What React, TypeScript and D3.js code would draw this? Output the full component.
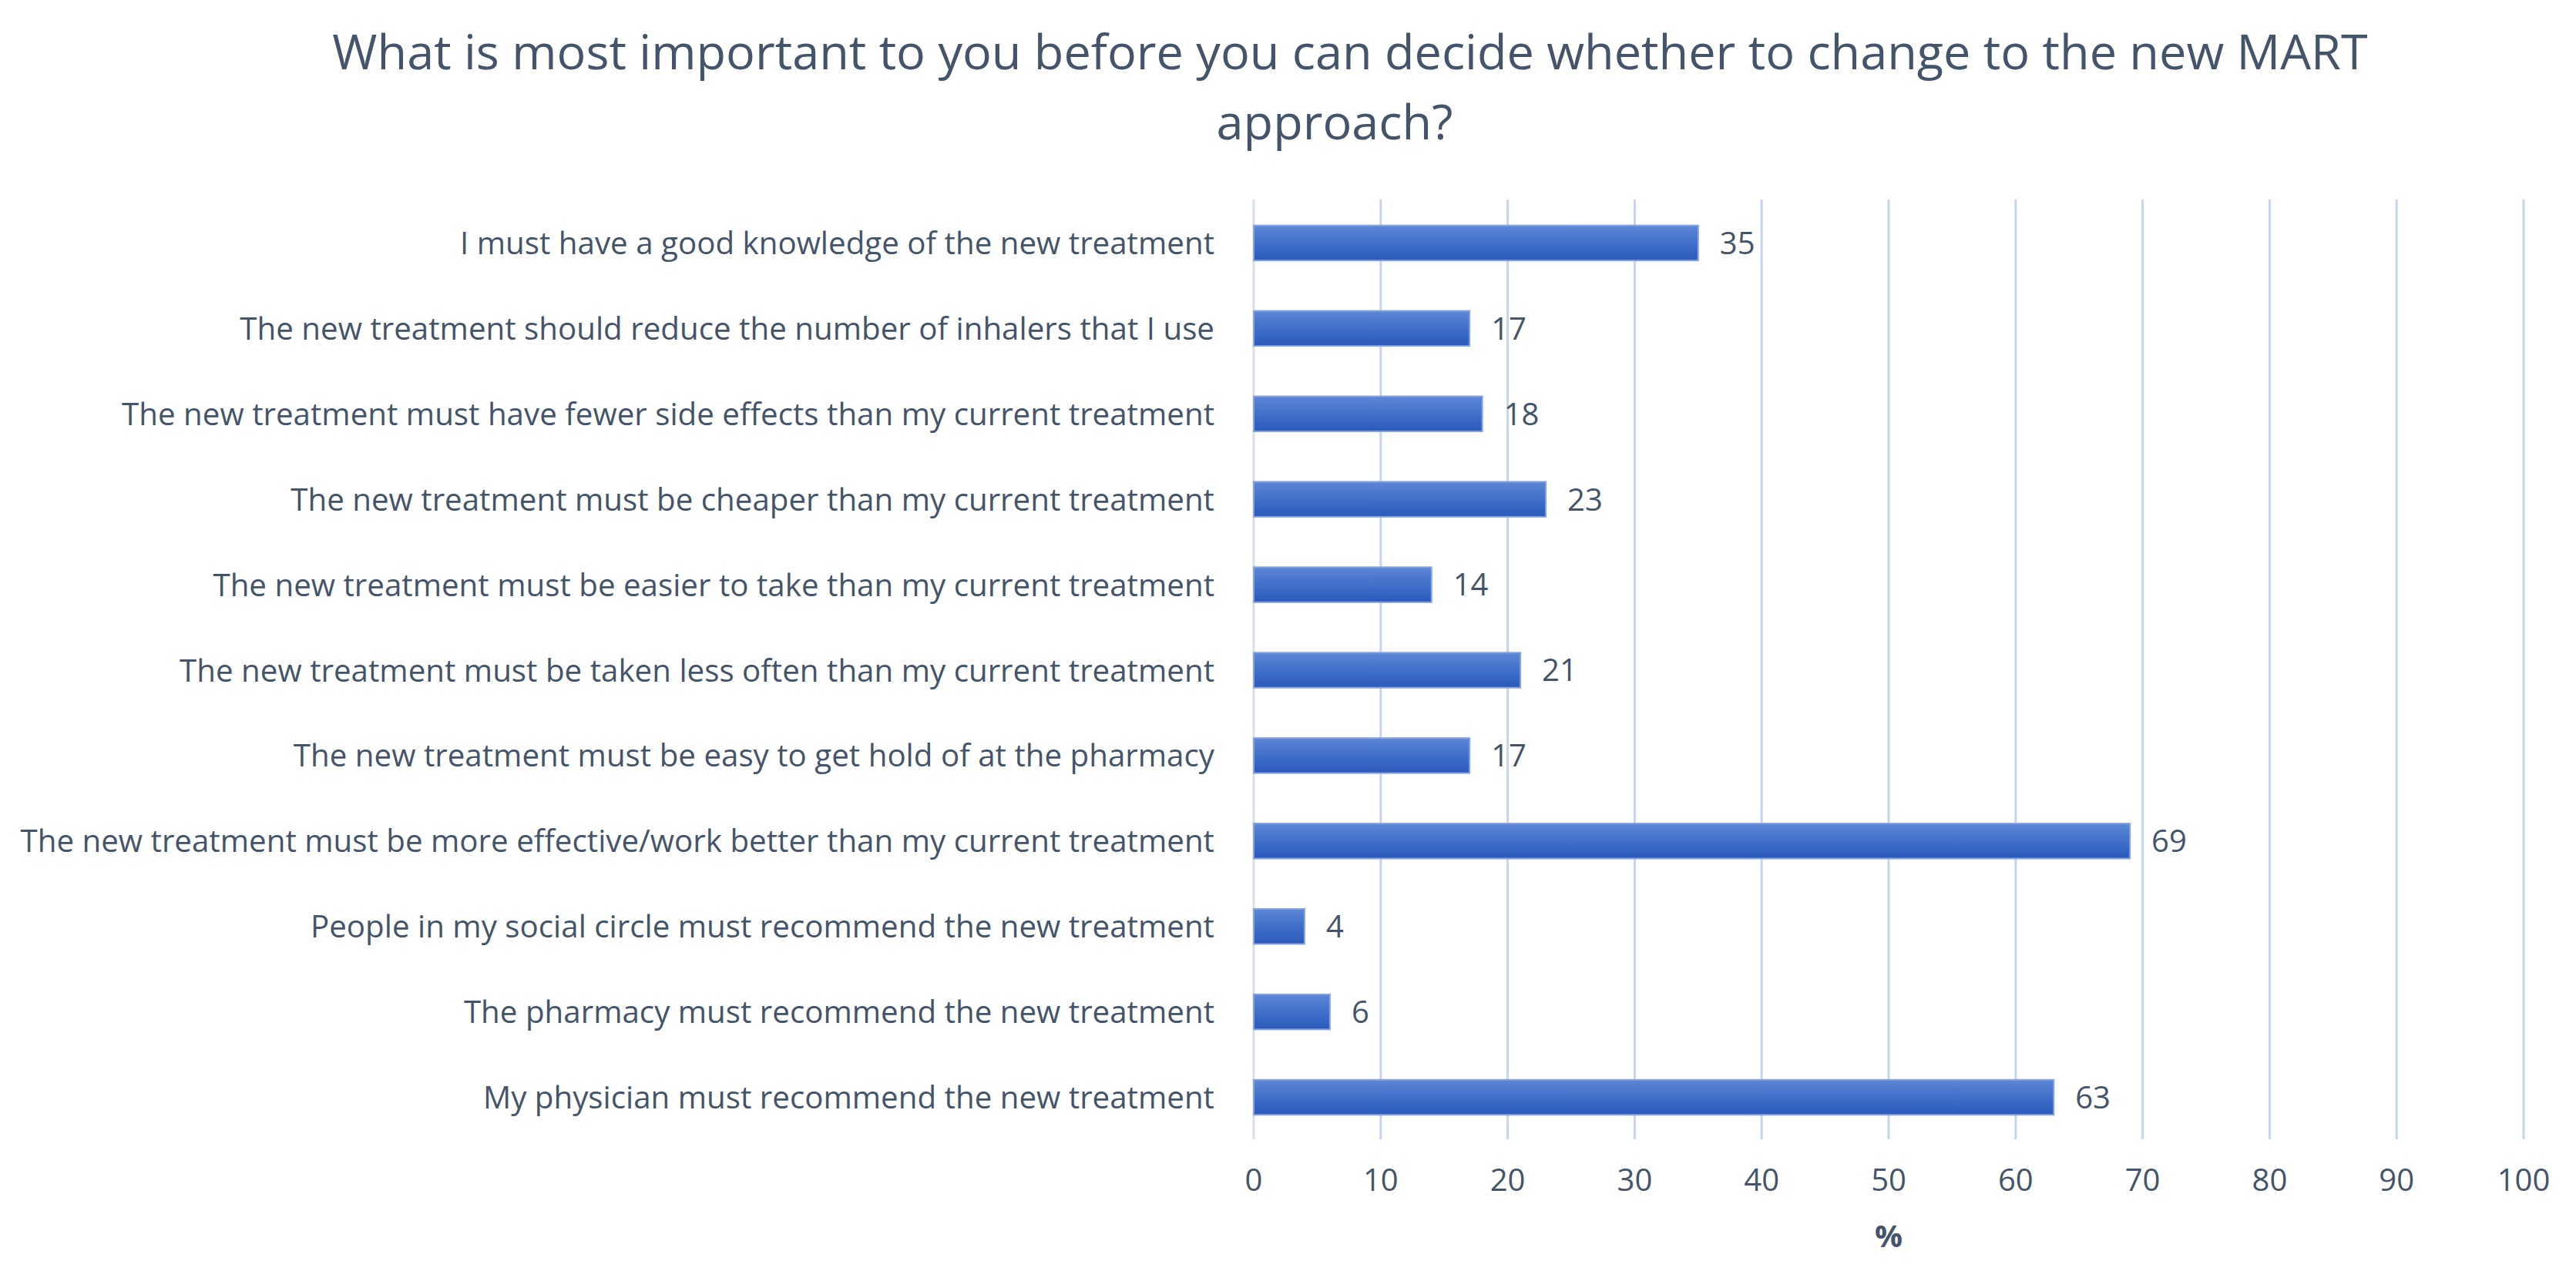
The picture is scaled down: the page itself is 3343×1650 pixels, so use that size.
import React from 'react';
import * as d3 from 'd3';

const categories = [
  'I must have a good knowledge of the new treatment',
  'The new treatment should reduce the number of inhalers that I use',
  'The new treatment must have fewer side effects than my current treatment',
  'The new treatment must be cheaper than my current treatment',
  'The new treatment must be easier to take than my current treatment',
  'The new treatment must be taken less often than my current treatment',
  'The new treatment must be easy to get hold of at the pharmacy',
  'The new treatment must be more effective/work better than my current treatment',
  'People in my social circle must recommend the new treatment',
  'The pharmacy must recommend the new treatment',
  'My physician must recommend the new treatment',
];
const values = [35, 17, 18, 23, 14, 21, 17, 69, 4, 6, 63];
const xTicks = [0, 10, 20, 30, 40, 50, 60, 70, 80, 90, 100];
const titleLines = [
  'What is most important to you before you can decide whether to change to the new MART',
  'approach?',
];
const axisTitle = '%';

const W = 3343;
const H = 1650;
const textColor = '#44546a';
const font = '"Open Sans", "Noto Sans", sans-serif';

export default function App() {
  const x = d3.scaleLinear().domain([0, 100]).range([1627, 3275]);
  const y = d3
    .scaleBand<string>()
    .domain(categories)
    .range([260, 1480])
    .paddingInner(0.59)
    .paddingOuter(0.295);

  const gridTop = 259;
  const gridBottom = 1479;

  return (
    <svg
      width={W}
      height={H}
      style={{ position: 'absolute', left: 0, top: 0, background: '#fff' }}
      fontFamily={font}
    >
      <defs>
        <linearGradient id="barFill" x1="0" y1="0" x2="0" y2="1">
          <stop offset="0%" stopColor="#5d86d5" />
          <stop offset="50%" stopColor="#416fca" />
          <stop offset="100%" stopColor="#2a59bc" />
        </linearGradient>
      </defs>

      {/* title */}
      <text x={1752} y={90} textAnchor="middle" fontSize={63} fill={textColor}>
        {titleLines[0]}
      </text>
      <text x={1732} y={181} textAnchor="middle" fontSize={63} fill={textColor}>
        {titleLines[1]}
      </text>

      {/* gridlines */}
      {xTicks.map((t) => (
        <line
          key={t}
          x1={x(t)}
          x2={x(t)}
          y1={gridTop}
          y2={gridBottom}
          stroke={t === 0 ? '#d9e0ec' : '#c6d4ef'}
          strokeWidth={3}
        />
      ))}

      {/* bars */}
      {categories.map((c, i) => (
        <g key={c}>
          <rect
            x={x(0)}
            y={y(c)}
            width={x(values[i]) - x(0)}
            height={y.bandwidth()}
            fill="url(#barFill)"
            stroke="#86a3de"
            strokeWidth={2}
          />
          <text
            x={x(values[i]) + 28}
            y={(y(c) ?? 0) + y.bandwidth() / 2}
            dy="0.36em"
            fontSize={40}
            fill={textColor}
          >
            {values[i]}
          </text>
          <text
            x={1576}
            y={(y(c) ?? 0) + y.bandwidth() / 2}
            dy="0.36em"
            textAnchor="end"
            fontSize={40.3}
            fill={textColor}
          >
            {c}
          </text>
        </g>
      ))}

      {/* x tick labels */}
      {xTicks.map((t) => (
        <text
          key={t}
          x={x(t)}
          y={1532}
          dy="0.36em"
          textAnchor="middle"
          fontSize={40}
          fill={textColor}
        >
          {t}
        </text>
      ))}

      <text
        x={x(50)}
        y={1605}
        dy="0.36em"
        textAnchor="middle"
        fontSize={40}
        fontWeight="bold"
        fill={textColor}
      >
        {axisTitle}
      </text>
    </svg>
  );
}
